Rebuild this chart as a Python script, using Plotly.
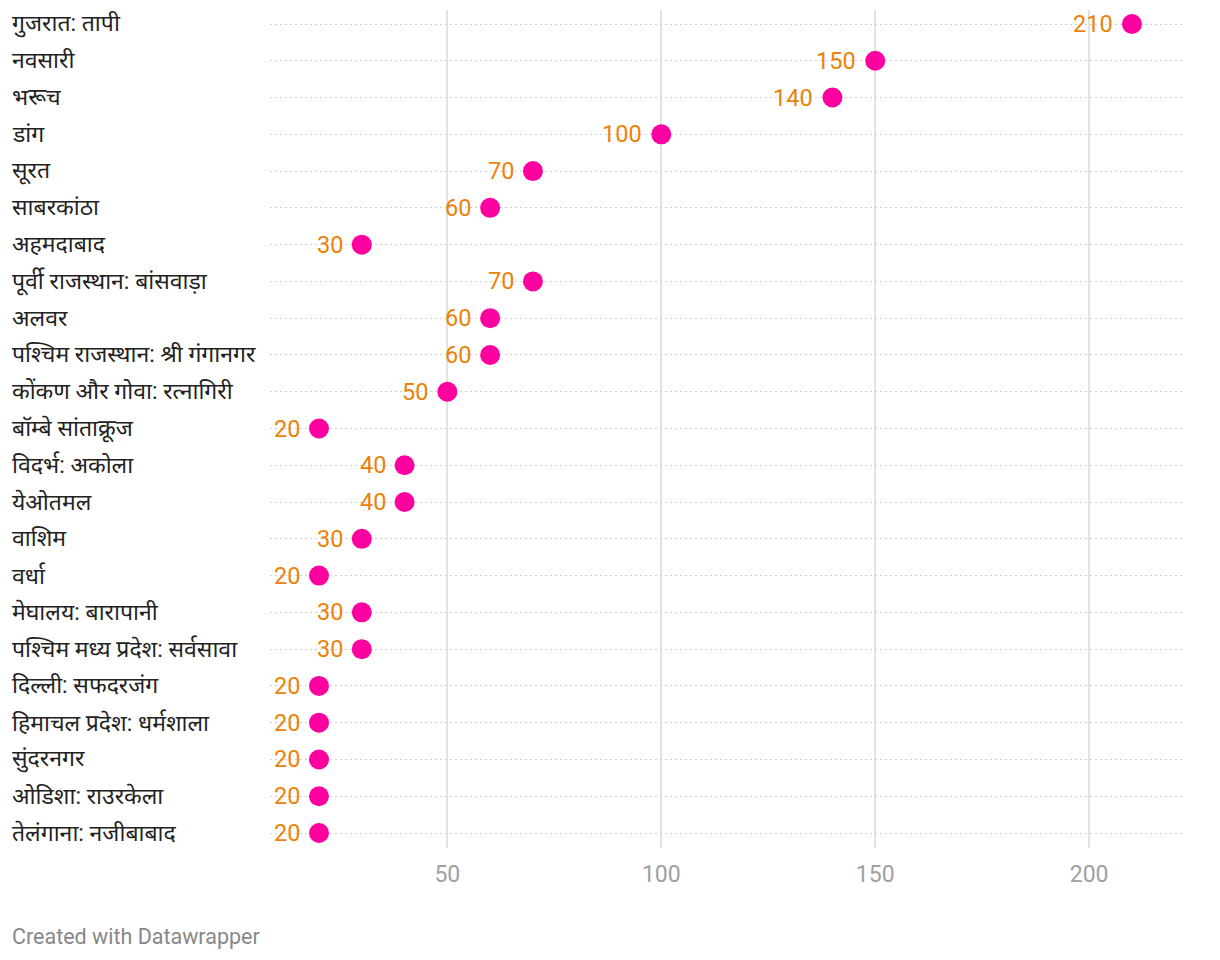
import plotly.graph_objects as go

categories = [
    "गुजरात: तापी", "नवसारी", "भरूच", "डांग", "सूरत", "साबरकांठा", "अहमदाबाद",
    "पूर्वी राजस्थान: बांसवाड़ा", "अलवर", "पश्चिम राजस्थान: श्री गंगानगर",
    "कोंकण और गोवा: रत्नागिरी", "बॉम्बे सांताक्रूज", "विदर्भ: अकोला", "येओतमल",
    "वाशिम", "वर्धा", "मेघालय: बारापानी", "पश्चिम मध्य प्रदेश: सर्वसावा",
    "दिल्ली: सफदरजंग", "हिमाचल प्रदेश: धर्मशाला", "सुंदरनगर", "ओडिशा: राउरकेला",
    "तेलंगाना: नजीबाबाद",
]
values = [210, 150, 140, 100, 70, 60, 30, 70, 60, 60, 50, 20, 40, 40, 30, 20, 30, 30,
          20, 20, 20, 20, 20]
x_ticks = [50, 100, 150, 200]

rows = list(range(len(categories)))

W, H = 1220, 960
ml, mr, mt, mb = 270, 35, 10, 112
pw = W - ml - mr
ph = H - mt - mb

fig = go.Figure()
fig.add_trace(go.Scatter(
    x=values, y=rows, mode="markers",
    marker=dict(size=20, color="#ff00a0", line=dict(width=0)),
    cliponaxis=False, hoverinfo="skip", showlegend=False,
))

annotations = []
for i, (c, v) in enumerate(zip(categories, values)):
    annotations.append(dict(
        x=(10 - ml) / pw, xref="paper", y=i, yref="y",
        text=c, showarrow=False, xanchor="left", yanchor="middle",
        font=dict(family="Roboto, Noto Sans, sans-serif", size=23, color="#222222"),
    ))
    annotations.append(dict(
        x=v, xref="x", y=i, yref="y", text=str(v), showarrow=False,
        xanchor="right", yanchor="middle", xshift=-17, yshift=0,
        font=dict(family="Roboto", size=23.5, color="#ec8209"),
    ))
annotations.append(dict(
    x=(10 - ml) / pw, xref="paper", y=(ph - (936 - mt)) / ph, yref="paper",
    text="Created with Datawrapper", showarrow=False, xanchor="left", yanchor="middle",
    font=dict(family="Roboto", size=21.5, color="#888888"),
))

fig.update_layout(
    width=W, height=H,
    margin=dict(l=ml, r=mr, t=mt, b=mb),
    paper_bgcolor="white", plot_bgcolor="white",
    annotations=annotations,
    xaxis=dict(
        range=[8.55, 222.4], tickvals=x_ticks, ticktext=[str(t) for t in x_ticks],
        showgrid=True, gridcolor="#e2e2e2", gridwidth=1.5,
        zeroline=False, showline=False, ticks="",
        tickfont=dict(family="Roboto", size=23, color="#a0a0a0"),
        ticklabelstandoff=10,
    ),
    yaxis=dict(
        range=[22 + 15 / 36.77, -14 / 36.77], tickvals=rows, showticklabels=False,
        showgrid=True, gridcolor="#d0d0d0", griddash="2px,3px", gridwidth=1,
        zeroline=False, showline=False, ticks="",
    ),
)

fig.write_html("out.html")
